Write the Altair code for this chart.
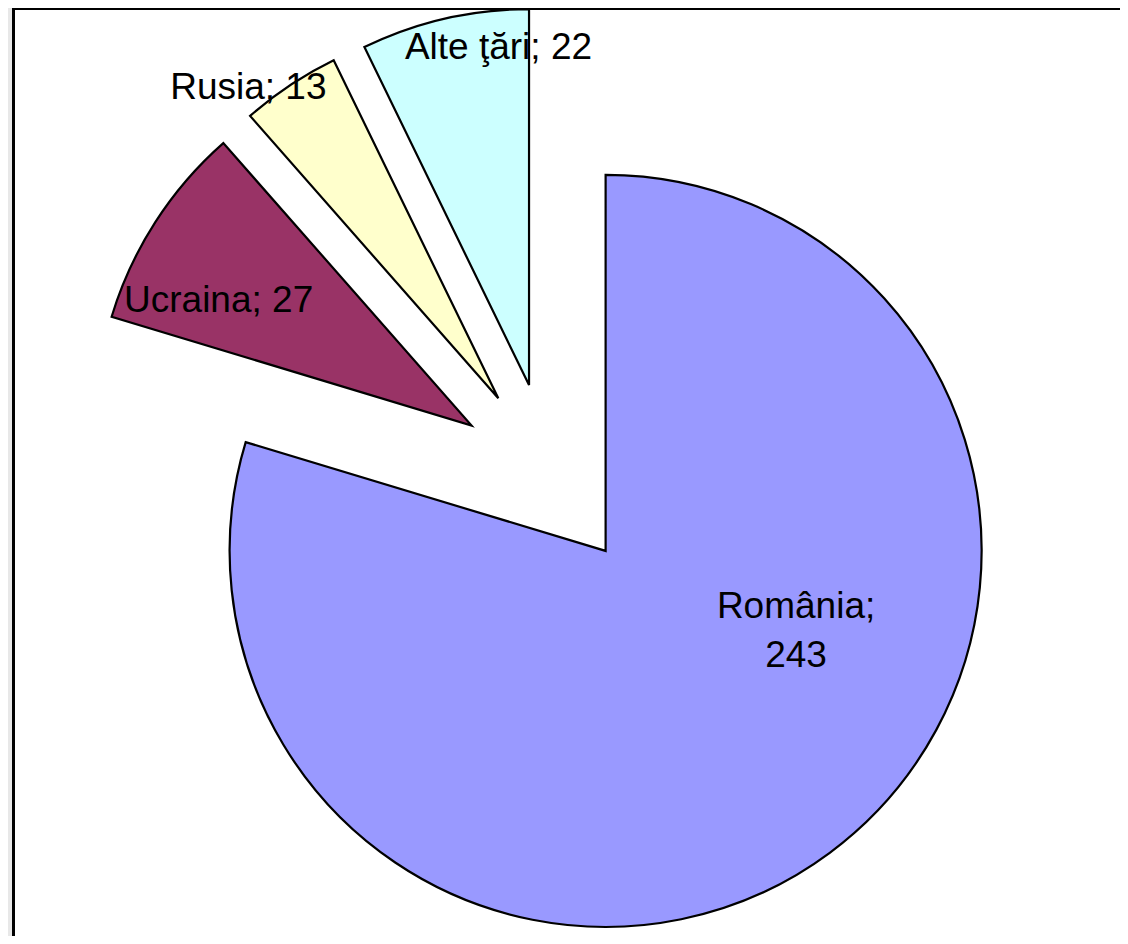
import altair as alt
import pandas as pd

# ---- data ----
categories = ["România", "Ucraina", "Rusia", "Alte ţări"]
values = [243, 27, 13, 22]
colors = ["#9999FF", "#993366", "#FFFFCC", "#CCFFFF"]

# ---- layout / style ----
W, H = 1112, 928
CX, CY = 542, 468          # pie centre (svg px)
RADIUS = 376
EXPLODE = 93.3             # explosion distance (25% of radius)
FONT = "Liberation Sans"
FONT_SIZE = 37
# label placement relative to each slice apex: (fraction of radius, angle shift in degrees)
label_place = {
    "România": (0.528, -37.0),
    "Ucraina": (0.75, -6.5),
    "Rusia": (1.06, -5.2),
    "Alte ţări": (0.90, 7.8),
}
wrap = {"România"}

df = pd.DataFrame({
    "cat": categories,
    "value": values,
    "idx": list(range(len(categories))),
    "lfrac": [label_place[c][0] for c in categories],
    "loff": [label_place[c][1] for c in categories],
    "label": [f"{c};\n{v}" if c in wrap else f"{c}; {v}" for c, v in zip(categories, values)],
})
total = sum(values)

base = alt.Chart(df).transform_joinaggregate(
    total="sum(value)"
).transform_window(
    cum="sum(value)", sort=[alt.SortField("idx")], frame=[None, 0]
).transform_calculate(
    start="datum.cum - datum.value",
    end="datum.cum",
    mid="PI * (2 * datum.cum - datum.value) / datum.total",
).transform_calculate(
    cx=f"{CX} + {EXPLODE} * sin(datum.mid)",
    cy=f"{CY} - {EXPLODE} * cos(datum.mid)",
    lang=f"datum.mid + datum.loff * PI / 180",
).transform_calculate(
    lx=f"datum.cx + {RADIUS} * datum.lfrac * sin(datum.lang)",
    ly=f"datum.cy - {RADIUS} * datum.lfrac * cos(datum.lang)",
)

slices = base.mark_arc(radius=RADIUS, stroke="black", strokeWidth=2.2, strokeJoin="miter").encode(
    theta=alt.Theta("start:Q", stack=None, scale=alt.Scale(domain=[0, total], nice=False)),
    theta2=alt.Theta2("end:Q"),
    x=alt.X("cx:Q", scale=None, axis=None),
    y=alt.Y("cy:Q", scale=None, axis=None),
    color=alt.Color("cat:N", scale=alt.Scale(domain=categories, range=colors), legend=None),
)

labels = base.mark_text(
    font=FONT, fontSize=FONT_SIZE, color="black", align="center", baseline="middle",
    lineBreak="\n", lineHeight=49,
).encode(
    x=alt.X("lx:Q", scale=None, axis=None),
    y=alt.Y("ly:Q", scale=None, axis=None),
    text="label:N",
)

one = alt.Data(values=[{}])
strip = alt.Chart(one).mark_rect(color="#e8e8e8").encode(
    x=alt.value(0), x2=alt.value(4), y=alt.value(0), y2=alt.value(H)
)
left_border = alt.Chart(one).mark_rule(color="black", strokeWidth=3).encode(
    x=alt.value(5.5), y=alt.value(0), y2=alt.value(H)
)
top_border = alt.Chart(one).mark_rule(color="black", strokeWidth=3).encode(
    x=alt.value(4), x2=alt.value(W), y=alt.value(0.5)
)

chart = alt.layer(strip, slices, labels, left_border, top_border).properties(
    width=W, height=H, padding=0, autosize=alt.AutoSizeParams(type="none"), background="white"
).configure_view(stroke=None)

chart.save("out.html", embed_options={"renderer": "svg", "actions": False})
